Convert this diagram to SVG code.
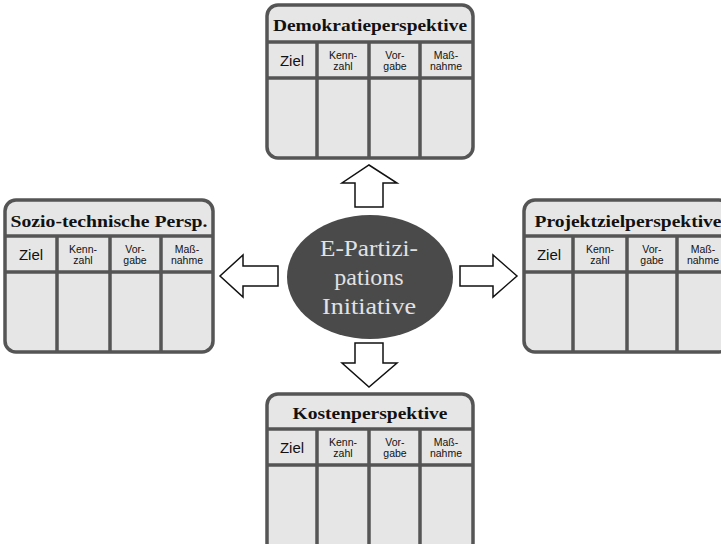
<svg xmlns="http://www.w3.org/2000/svg" width="721" height="544" viewBox="0 0 721 544">
<style>
.box{fill:#e6e6e6;stroke:#555;stroke-width:3.5}
.ln{stroke:#555;stroke-width:3.5;fill:none}
.ttl{font-family:"Liberation Serif",serif;font-weight:bold;font-size:17px;fill:#111;text-anchor:middle}
.z{font-family:"Liberation Sans",Arial,sans-serif;font-size:15px;fill:#111;text-anchor:middle}
.s{font-family:"Liberation Sans",Arial,sans-serif;font-size:10.5px;fill:#111;text-anchor:middle}
.arr{fill:#fff;stroke:#111;stroke-width:1.5;stroke-linejoin:miter}
.el{font-family:"Liberation Serif",serif;font-size:24px;fill:#e2e2e2;text-anchor:middle}
</style>
<rect width="721" height="544" fill="#fff"/>

<g id="demokratie" transform="translate(267,5)">
<rect class="box" x="0" y="0" width="206" height="153" rx="11"/>
<line class="ln" x1="0" y1="37" x2="206" y2="37"/>
<line class="ln" x1="0" y1="73" x2="206" y2="73"/>
<line class="ln" x1="50" y1="37" x2="50" y2="153"/>
<line class="ln" x1="102" y1="37" x2="102" y2="153"/>
<line class="ln" x1="153" y1="37" x2="153" y2="153"/>
<text class="ttl" x="103" y="26" textLength="194" lengthAdjust="spacingAndGlyphs">Demokratieperspektive</text>
<text class="z" x="25" y="61">Ziel</text>
<text class="s" x="76" y="53.5">Kenn-</text><text class="s" x="76" y="64.5">zahl</text>
<text class="s" x="128" y="53.5">Vor-</text><text class="s" x="128" y="64.5">gabe</text>
<text class="s" x="179" y="53.5">Maß-</text><text class="s" x="179" y="64.5">nahme</text>
</g>

<g id="sozio" transform="translate(5,200)">
<rect class="box" x="0" y="0" width="208" height="152" rx="11"/>
<line class="ln" x1="0" y1="36" x2="208" y2="36"/>
<line class="ln" x1="0" y1="72" x2="208" y2="72"/>
<line class="ln" x1="52" y1="36" x2="52" y2="152"/>
<line class="ln" x1="105" y1="36" x2="105" y2="152"/>
<line class="ln" x1="156" y1="36" x2="156" y2="152"/>
<text class="ttl" x="104" y="27" textLength="197" lengthAdjust="spacingAndGlyphs">Sozio-technische Persp.</text>
<text class="z" x="26" y="60">Ziel</text>
<text class="s" x="78" y="52.5">Kenn-</text><text class="s" x="78" y="63.5">zahl</text>
<text class="s" x="130" y="52.5">Vor-</text><text class="s" x="130" y="63.5">gabe</text>
<text class="s" x="182" y="52.5">Maß-</text><text class="s" x="182" y="63.5">nahme</text>
</g>

<g id="projektziel" transform="translate(524,200)">
<rect class="box" x="0" y="0" width="206" height="152" rx="11"/>
<line class="ln" x1="0" y1="36" x2="206" y2="36"/>
<line class="ln" x1="0" y1="72" x2="206" y2="72"/>
<line class="ln" x1="49" y1="36" x2="49" y2="152"/>
<line class="ln" x1="103" y1="36" x2="103" y2="152"/>
<line class="ln" x1="153" y1="36" x2="153" y2="152"/>
<text class="ttl" x="104" y="27" textLength="187" lengthAdjust="spacingAndGlyphs">Projektzielperspektive</text>
<text class="z" x="25" y="60">Ziel</text>
<text class="s" x="76" y="52.5">Kenn-</text><text class="s" x="76" y="63.5">zahl</text>
<text class="s" x="128" y="52.5">Vor-</text><text class="s" x="128" y="63.5">gabe</text>
<text class="s" x="179" y="52.5">Maß-</text><text class="s" x="179" y="63.5">nahme</text>
</g>

<g id="kosten" transform="translate(267,394)">
<rect class="box" x="0" y="0" width="206" height="160" rx="11"/>
<line class="ln" x1="0" y1="35" x2="206" y2="35"/>
<line class="ln" x1="0" y1="71" x2="206" y2="71"/>
<line class="ln" x1="50" y1="35" x2="50" y2="160"/>
<line class="ln" x1="102" y1="35" x2="102" y2="160"/>
<line class="ln" x1="153" y1="35" x2="153" y2="160"/>
<text class="ttl" x="103" y="25" textLength="155" lengthAdjust="spacingAndGlyphs">Kostenperspektive</text>
<text class="z" x="25" y="59">Ziel</text>
<text class="s" x="76" y="51.5">Kenn-</text><text class="s" x="76" y="62.5">zahl</text>
<text class="s" x="128" y="51.5">Vor-</text><text class="s" x="128" y="62.5">gabe</text>
<text class="s" x="179" y="51.5">Maß-</text><text class="s" x="179" y="62.5">nahme</text>
</g>

<g id="initiative">
<ellipse cx="370" cy="277" rx="83" ry="62" fill="#4a4a4a"/>
<text class="el" x="369" y="256" textLength="98" lengthAdjust="spacingAndGlyphs">E-Partizi-</text>
<text class="el" x="369" y="285">pations</text>
<text class="el" x="369" y="314" textLength="94" lengthAdjust="spacingAndGlyphs">Initiative</text>
</g>

<g id="connectors">
<polygon class="arr" points="355,207 355,183 342,183 369,165 397,183 383,183 383,207"/>
<polygon class="arr" points="355,343 355,363 342,363 369,387 397,363 383,363 383,343"/>
<polygon class="arr" points="278,266 243,266 243,255 220,276 243,297 243,286 278,286"/>
<polygon class="arr" points="460,266 493,266 493,255 517,276 493,297 493,286 460,286"/>
</g>
</svg>
